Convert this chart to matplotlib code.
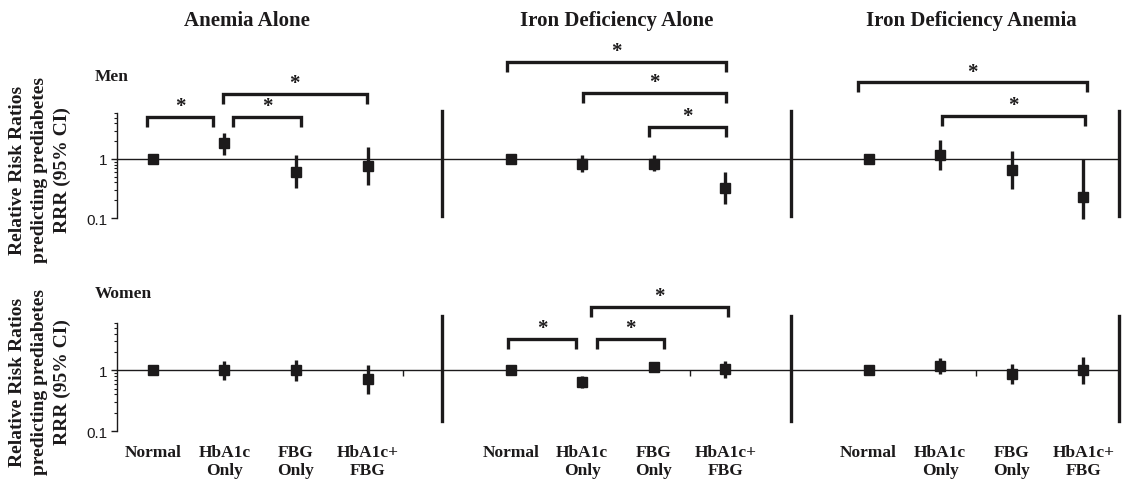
import numpy as np
import matplotlib
matplotlib.use('Agg')
import matplotlib.pyplot as plt
from matplotlib.ticker import FixedLocator, LogLocator, NullFormatter

plt.rcParams['font.family'] = ['Liberation Serif', 'DejaVu Serif']

INK = '#1c1a1b'

panels = ['Anemia Alone', 'Iron Deficiency Alone', 'Iron Deficiency Anemia']
categories = ['Normal', 'HbA1c\nOnly', 'FBG\nOnly', 'HbA1c+\nFBG']
rows = ['Men', 'Women']

# RRR estimates and 95% CI, one list per panel
men_rrr = [[1.0, 1.83, 0.60, 0.76], [1.0, 0.83, 0.83, 0.32], [1.0, 1.17, 0.64, 0.23]]
men_lo = [[1.0, 1.17, 0.32, 0.36], [1.0, 0.60, 0.62, 0.17], [1.0, 0.64, 0.31, 0.095]]
men_hi = [[1.0, 2.79, 1.17, 1.57], [1.0, 1.17, 1.17, 0.60], [1.0, 2.10, 1.37, 1.0]]

women_rrr = [[1.0, 1.0, 1.02, 0.72], [1.0, 0.64, 1.12, 1.05], [1.0, 1.17, 0.86, 1.02]]
women_lo = [[1.0, 0.69, 0.66, 0.41], [1.0, 0.51, 0.93, 0.75], [1.0, 0.88, 0.59, 0.59]]
women_hi = [[1.0, 1.41, 1.45, 1.24], [1.0, 0.80, 1.35, 1.41], [1.0, 1.60, 1.25, 1.68]]

# significance brackets: (panel, from category, to category, bracket height)
men_sig = [(0, -0.08, 0.84, 5.15), (0, 1.12, 2.07, 5.15), (0, 0.98, 2.99, 12.6),
           (1, -0.05, 3.01, 44.6), (1, 1.01, 3.01, 13.1), (1, 1.94, 3.01, 3.53),
           (2, -0.15, 3.05, 19.9), (2, 1.02, 3.02, 5.42)]
women_sig = [(1, -0.03, 0.92, 3.32), (1, 1.20, 2.14, 3.32), (1, 1.12, 3.03, 11.2)]

W, H = 1126, 481
fig = plt.figure(figsize=(W / 100, H / 100), dpi=100)

# axes boxes in pixels: left, top, right, bottom
boxes = [(117, 114, 1119, 219), (117, 324, 1119, 432)]
sep_span = [(0.02, 1.02), (0.09, 1.065)]
separators = [4.04, 8.92, 13.5]
leg = 10 ** (-0.17)

data = [(men_rrr, men_lo, men_hi, men_sig), (women_rrr, women_lo, women_hi, women_sig)]
label_y = [170, 382]
row_label_y = [81, 298]

for r, (box, (rrr, lo, hi, sig)) in enumerate(zip(boxes, data)):
    l, t, rt, b = box
    ax = fig.add_axes([l / W, 1 - b / H, (rt - l) / W, (b - t) / H])
    ax.set_yscale('log')
    ax.set_ylim(0.1, 6)
    ax.set_xlim(-0.5, 13.5)

    for s in ['top', 'right']:
        ax.spines[s].set_visible(False)
    ax.spines['bottom'].set_position(('data', 1))
    ax.spines['bottom'].set_linewidth(1.0)
    ax.spines['left'].set_linewidth(1.0)
    ax.spines['bottom'].set_color(INK)
    ax.spines['left'].set_color(INK)

    ax.yaxis.set_major_locator(FixedLocator([0.1, 1]))
    ax.set_yticklabels(['0.1', '1'], family=['Liberation Sans', 'DejaVu Sans'], fontsize=11)
    ax.yaxis.set_minor_locator(LogLocator(base=10, subs=np.arange(2, 10)))
    ax.yaxis.set_minor_formatter(NullFormatter())
    ax.tick_params(axis='y', which='major', length=4, width=1, pad=3, colors=INK)
    ax.tick_params(axis='y', which='minor', length=2.5, width=0.8, colors=INK)

    if r == 1:
        ax.set_xticks([3.5, 7.5, 11.5])
        ax.set_xticklabels([])
        ax.tick_params(axis='x', length=4, width=1, colors=INK)
    else:
        ax.set_xticks([])

    for p in range(3):
        x = np.arange(4) + p * 5
        est = np.array(rrr[p])
        err = [est - np.array(lo[p]), np.array(hi[p]) - est]
        ax.errorbar(x, est, yerr=err, fmt='s', color=INK, ms=7, elinewidth=2.4,
                    capsize=0, clip_on=False, zorder=3)
        if r == 1:
            for xi, cat in zip(x, categories):
                ax.text(xi, -0.12, cat, transform=ax.get_xaxis_transform(), ha='center',
                        va='top', fontsize=12.5, fontweight='bold', linespacing=1.15,
                        color=INK)

    y0, y1 = sep_span[r]
    for sx in separators:
        ax.axvline(sx, ymin=y0, ymax=y1, color=INK, lw=2.4, clip_on=False)

    for p, a, c, top in sig:
        x0, x1 = p * 5 + a, p * 5 + c
        ax.plot([x0, x0, x1, x1], [top * leg, top, top, top * leg], color=INK, lw=2.4,
                clip_on=False, solid_joinstyle='miter', solid_capstyle='butt')
        ax.annotate('*', xy=((x0 + x1) / 2, top), xytext=(0, 4), textcoords='offset points',
                    ha='center', va='baseline', fontsize=15, fontweight='bold', color=INK,
                    annotation_clip=False)

    fig.text(40 / W, 1 - label_y[r] / H,
             'Relative Risk Ratios\npredicting prediabetes\nRRR (95% CI)',
             rotation=90, ha='center', va='center', multialignment='center',
             fontsize=14, fontweight='bold', linespacing=1.4, color=INK)
    fig.text(95 / W, 1 - row_label_y[r] / H, rows[r], ha='left', va='baseline',
             fontsize=12.5, fontweight='bold', color=INK)

for xp, title in zip([247, 617, 971], panels):
    fig.text(xp / W, 1 - 21 / H, title, ha='center', va='center', fontsize=15,
             fontweight='bold', color=INK)

fig.savefig('out.png', dpi=100)
